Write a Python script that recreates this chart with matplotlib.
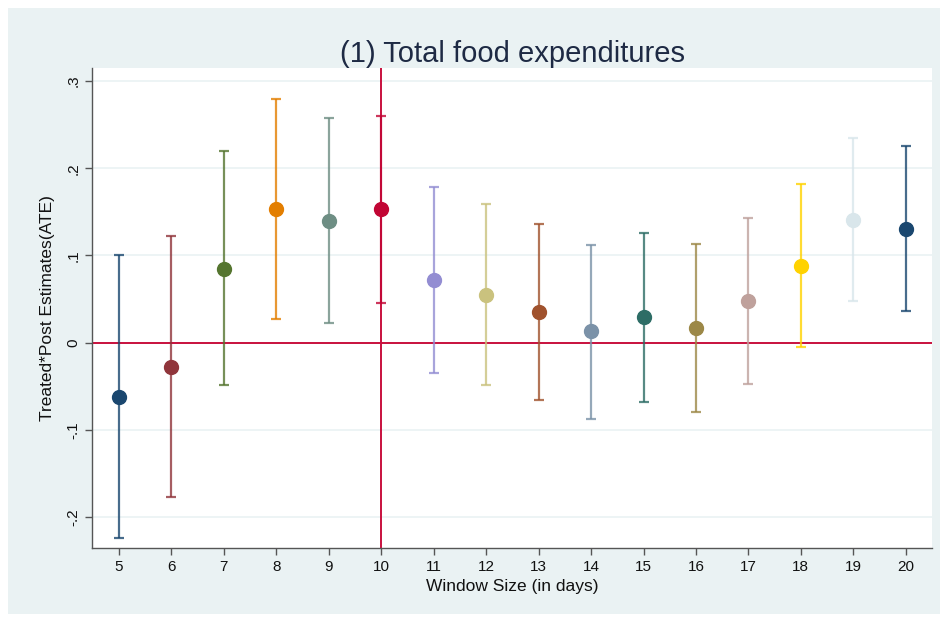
import matplotlib
matplotlib.use("Agg")
import matplotlib.pyplot as plt
from matplotlib.patches import Rectangle

# window sizes (days) and treated*post estimates with CI bounds
window = [5, 6, 7, 8, 9, 10, 11, 12, 13, 14, 15, 16, 17, 18, 19, 20]
estimate = [-0.062, -0.028, 0.085, 0.153, 0.140, 0.153, 0.072, 0.055,
            0.035, 0.013, 0.029, 0.017, 0.048, 0.088, 0.141, 0.130]
ci_low = [-0.224, -0.177, -0.049, 0.027, 0.023, 0.046, -0.035, -0.048,
          -0.066, -0.087, -0.068, -0.079, -0.047, -0.005, 0.048, 0.036]
ci_high = [0.100, 0.122, 0.220, 0.280, 0.258, 0.260, 0.178, 0.159,
           0.136, 0.112, 0.126, 0.113, 0.143, 0.182, 0.235, 0.226]

# Stata s2color palette
colors = ["#1a476f", "#90353b", "#55752f", "#e37e00", "#6e8e84", "#c10534",
          "#938dd2", "#cac27e", "#a0522d", "#7b92a8", "#2d6d66", "#9c8847",
          "#bfa19c", "#ffd200", "#d9e6eb", "#1a476f"]

yticks = [-0.2, -0.1, 0, 0.1, 0.2, 0.3]
ytick_labels = ["-.2", "-.1", "0", ".1", ".2", ".3"]

plt.rcParams["font.family"] = ["Liberation Sans", "DejaVu Sans"]

fig = plt.figure(figsize=(9.47, 6.22), dpi=100)
fig.patch.set_facecolor("white")
bg = Rectangle((8 / 947, 8 / 622), 932 / 947, 606 / 622,
               transform=fig.transFigure, facecolor="#eaf2f3",
               edgecolor="none", zorder=-10)
fig.add_artist(bg)

ax = fig.add_axes([92 / 947, 1 - 548 / 622, 840 / 947, 480 / 622])
ax.set_facecolor("white")

for x, e, lo, hi, c in zip(window, estimate, ci_low, ci_high, colors):
    ax.errorbar(x, e, yerr=[[e - lo], [hi - e]], fmt="none", ecolor=c,
                elinewidth=1.6, capsize=3.5, capthick=1.6, alpha=0.8, zorder=3)
    ax.plot(x, e, "o", color=c, markersize=10, zorder=4)

ax.axhline(0, color="#c8103e", lw=1.4, zorder=2)
ax.axvline(10, color="#c8103e", lw=1.4, zorder=2)

ax.set_xlim(4.485, 20.5)
ax.set_ylim(-0.2355, 0.315)
ax.set_xticks(window)
ax.set_xticklabels([str(w) for w in window], fontsize=11)
ax.set_yticks(yticks)
ax.set_yticklabels(ytick_labels, fontsize=11, rotation=90, va="center")
ax.grid(axis="y", color="#eaf2f3", lw=1.2, zorder=0)
ax.set_axisbelow(True)

for s in ["top", "right"]:
    ax.spines[s].set_visible(False)
for s in ["left", "bottom"]:
    ax.spines[s].set_color("#555555")
    ax.spines[s].set_linewidth(1.0)
ax.tick_params(axis="both", direction="out", length=5, width=1, color="#555555",
               labelcolor="#111111")

ax.set_xlabel("Window Size (in days)", fontsize=12.5, color="#111111", labelpad=4)
ax.set_ylabel("Treated*Post Estimates(ATE)", fontsize=12.5, color="#111111", labelpad=8)
ax.set_title("(1) Total food expenditures", fontsize=21, color="#1e2a44", pad=3)

fig.savefig("out.png", dpi=100, facecolor=fig.get_facecolor())
